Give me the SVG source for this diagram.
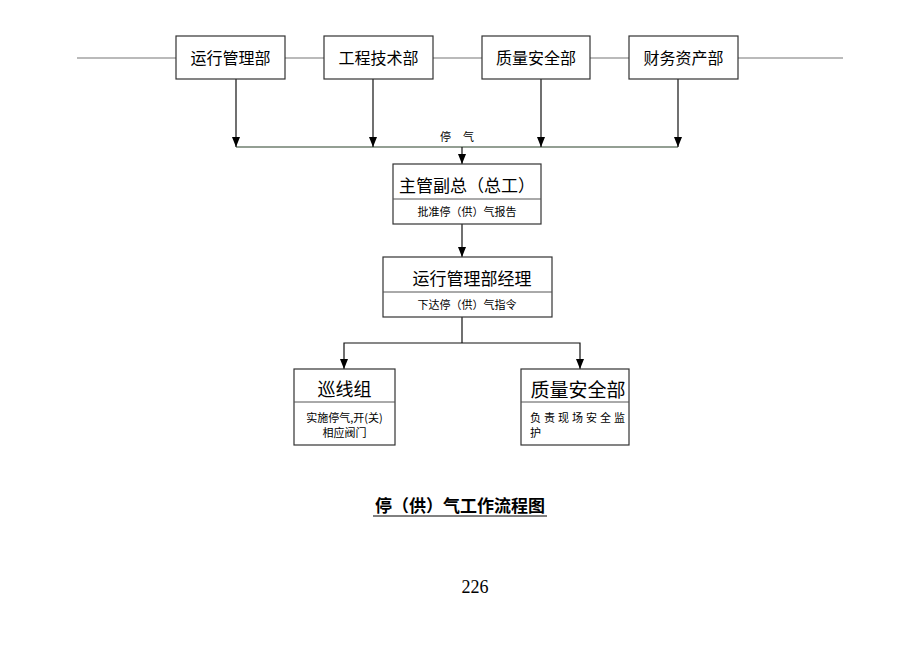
<svg xmlns="http://www.w3.org/2000/svg" width="920" height="651" viewBox="0 0 920 651">
<defs>
<marker id="arr" viewBox="0 0 10 8" refX="10" refY="4" markerWidth="10" markerHeight="8" markerUnits="userSpaceOnUse" orient="auto-start-reverse">
<path d="M0,0 L10,4 L0,8 Z" fill="#000"/>
</marker>
<style>
.box{fill:#fff;stroke:#333;stroke-width:1.2}
.div{stroke:#555;stroke-width:1}
.ln{stroke:#111;stroke-width:1.2;fill:none}
.gl{stroke:#777;stroke-width:1.2;fill:none}
.t{font-family:"Noto Sans CJK SC","Liberation Sans",sans-serif;fill:#000}
.big{font-size:16px}
.ttl{font-size:17px;text-anchor:middle}
.sub{font-size:11px;text-anchor:middle}
</style>
</defs>
<rect width="920" height="651" fill="#fff"/>
<g id="connectors">
<line class="gl" x1="77" y1="58" x2="176" y2="58"/>
<line class="gl" x1="285" y1="58" x2="324" y2="58"/>
<line class="gl" x1="433" y1="58" x2="482" y2="58"/>
<line class="gl" x1="590" y1="58" x2="629" y2="58"/>
<line class="gl" x1="738" y1="58" x2="843" y2="58"/>
<line x1="236" y1="147" x2="678" y2="147" stroke="#6f7f6f" stroke-width="1.4"/>
<line class="ln" x1="236" y1="79" x2="236" y2="147" marker-end="url(#arr)"/>
<line class="ln" x1="373" y1="79" x2="373" y2="147" marker-end="url(#arr)"/>
<line class="ln" x1="541" y1="79" x2="541" y2="147" marker-end="url(#arr)"/>
<line class="ln" x1="678" y1="79" x2="678" y2="147" marker-end="url(#arr)"/>
<line class="ln" x1="462" y1="147" x2="462" y2="164" marker-end="url(#arr)"/>
<line class="ln" x1="462" y1="224" x2="462" y2="257" marker-end="url(#arr)"/>
<polyline class="ln" points="462,317 462,343"/>
<polyline class="ln" points="344,369 344,343 580,343 580,369" marker-start="url(#arr)" marker-end="url(#arr)"/>
<text class="t" x="440" y="141" font-size="11">停</text>
<text class="t" x="463" y="141" font-size="11">气</text>
</g>
<g id="n1"><rect class="box" x="176" y="36" width="109" height="43"/><text class="t big" x="230.5" y="64" text-anchor="middle">运行管理部</text></g>
<g id="n2"><rect class="box" x="324" y="36" width="109" height="43"/><text class="t big" x="378.5" y="64" text-anchor="middle">工程技术部</text></g>
<g id="n3"><rect class="box" x="482" y="36" width="108" height="43"/><text class="t big" x="536" y="64" text-anchor="middle">质量安全部</text></g>
<g id="n4"><rect class="box" x="629" y="36" width="109" height="43"/><text class="t big" x="683.5" y="64" text-anchor="middle">财务资产部</text></g>
<g id="n5"><rect class="box" x="393" y="164" width="148" height="60"/><line class="div" x1="393" y1="199" x2="541" y2="199"/>
<text class="t ttl" x="467" y="192" font-size="16">主管副总（总工）</text>
<text class="t sub" x="467" y="216">批准停（供）气报告</text></g>
<g id="n6"><rect class="box" x="383" y="257" width="169" height="60"/><line class="div" x1="383" y1="292" x2="552" y2="292"/>
<text class="t ttl" x="472" y="285">运行管理部经理</text>
<text class="t sub" x="467" y="309">下达停（供）气指令</text></g>
<g id="n7"><rect class="box" x="294" y="369" width="101" height="76"/><line class="div" x1="294" y1="402" x2="395" y2="402"/>
<text class="t" x="344.5" y="396" font-size="18" text-anchor="middle">巡线组</text>
<text class="t sub" x="344.5" y="422">实施停气,开(关)</text>
<text class="t sub" x="344.5" y="437">相应阀门</text></g>
<g id="n8"><rect class="box" x="521" y="369" width="108" height="76"/><line class="div" x1="521" y1="402" x2="629" y2="402"/>
<text class="t" x="578" y="397" font-size="19" text-anchor="middle">质量安全部</text>
<text class="t" x="530" y="422" font-size="11" letter-spacing="3">负责现场安全监</text>
<text class="t" x="530" y="437" font-size="11">护</text></g>
<g id="caption">
<text class="t" x="460" y="512" font-size="17" text-anchor="middle" font-weight="bold">停（供）气工作流程图</text>
<line x1="373" y1="516" x2="547" y2="516" stroke="#000" stroke-width="1"/>
<text x="475" y="593" font-family="Liberation Serif,serif" font-size="18" text-anchor="middle">226</text>
</g>
</svg>
